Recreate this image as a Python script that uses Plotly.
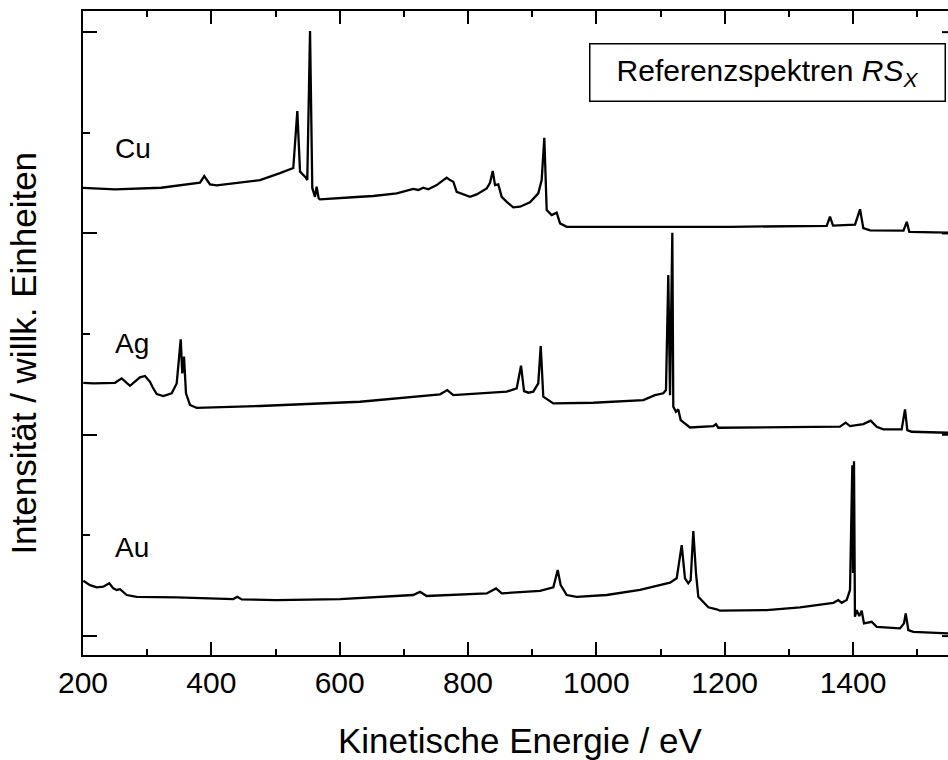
import plotly.graph_objects as go

# ---- data (kinetic energy in eV, intensity in arbitrary units, stacked) ----
cu_x = [200, 250.0, 321.6, 382.3, 389.0, 397.9, 408.4, 475.8, 507.0, 522.6, 527.7, 534.0, 538.2, 546.0, 549.5,
        553.8, 557.3, 561.5, 564.1, 567.3, 569.3, 626.5, 652.4, 688.9, 714.7, 722.5, 730.3, 738.1, 751.2,
        761.5, 766.8, 771.9, 777.1, 782.4, 792.7, 803.1, 813.5, 829.1, 834.3, 838.5, 842.1, 847.2, 852.5,
        860.3, 870.6, 881.0, 896.6, 909.5, 914.8, 918.9, 922.6, 930.4, 938.2, 943.4, 953.8, 1208.3, 1359.0,
        1364.1, 1368.8, 1403.1, 1410.9, 1416.0, 1426.5, 1478.7, 1483.7, 1487.7, 1548.0]
cu_y = [2.226, 2.219, 2.227, 2.252, 2.285, 2.244, 2.239, 2.265, 2.300, 2.320, 2.325, 2.608, 2.307, 2.282, 2.265,
        3.006, 2.226, 2.182, 2.232, 2.174, 2.169, 2.181, 2.186, 2.199, 2.221, 2.216, 2.227, 2.219, 2.240,
        2.265, 2.277, 2.265, 2.257, 2.207, 2.196, 2.182, 2.194, 2.224, 2.252, 2.310, 2.240, 2.244, 2.182,
        2.157, 2.130, 2.133, 2.155, 2.199, 2.265, 2.475, 2.116, 2.091, 2.103, 2.050, 2.033, 2.033, 2.038,
        2.083, 2.039, 2.044, 2.120, 2.027, 2.015, 2.014, 2.058, 2.008, 2.004]

ag_x = [200.5, 216.1, 249.9, 260.3, 273.2, 283.7, 288.8, 296.6, 304.4, 308.3, 314.9, 325.1, 338.2, 346.0,
        352.3, 354.7, 357.4, 360.5, 366.7, 377.2, 475.8, 631.7, 756.4, 767.7, 777.1, 860.3, 875.9, 882.6,
        887.3, 894.0, 901.7, 909.5, 913.3, 917.3, 925.1, 932.9, 995.2, 1073.2, 1091.4, 1104.3, 1108.5,
        1112.1, 1114.8, 1118.4, 1119.9, 1124.1, 1127.7, 1131.4, 1145.9, 1161.5, 1182.2, 1186.4, 1190.0,
        1379.7, 1388.5, 1395.3, 1416.0, 1427.5, 1436.9, 1447.2, 1475.8, 1481.0, 1484.6, 1491.4, 1548.0]
ag_y = [1.258, 1.255, 1.258, 1.280, 1.243, 1.272, 1.285, 1.292, 1.263, 1.237, 1.202, 1.192, 1.206, 1.255,
        1.474, 1.305, 1.388, 1.206, 1.148, 1.134, 1.143, 1.164, 1.201, 1.222, 1.197, 1.214, 1.231, 1.343,
        1.217, 1.209, 1.214, 1.255, 1.441, 1.189, 1.172, 1.156, 1.159, 1.172, 1.197, 1.206, 1.222,
        1.793, 1.197, 2.003, 1.139, 1.114, 1.126, 1.073, 1.036, 1.040, 1.043, 1.053, 1.035,
        1.040, 1.060, 1.043, 1.053, 1.070, 1.040, 1.027, 1.027, 1.126, 1.023, 1.015, 1.010]

au_x = [200.5, 210.9, 221.4, 231.6, 241.0, 247.2, 252.5, 257.7, 268.1, 283.7, 346.0, 397.9, 434.2, 440.5,
        447.3, 501.9, 600.5, 714.7, 725.2, 735.6, 829.1, 843.6, 852.5, 912.2, 932.9, 939.8, 944.4, 953.8,
        969.3, 1016.1, 1068.0, 1114.8, 1125.2, 1133.0, 1138.1, 1143.3, 1147.0, 1151.1, 1155.3, 1158.9,
        1166.7, 1174.5, 1187.5, 1192.7, 1265.5, 1317.4, 1369.3, 1377.0, 1382.4, 1390.1, 1395.3, 1398.9,
        1400.0, 1401.5, 1403.0, 1405.7, 1409.7, 1413.5, 1417.1, 1429.1, 1436.9, 1473.2, 1479.4, 1482.1,
        1486.2, 1494.0, 1548.0]
au_y = [0.275, 0.253, 0.242, 0.245, 0.262, 0.237, 0.229, 0.233, 0.204, 0.195, 0.192, 0.187, 0.184, 0.195,
        0.182, 0.179, 0.184, 0.204, 0.220, 0.199, 0.212, 0.237, 0.212, 0.225, 0.242, 0.328, 0.253, 0.204,
        0.195, 0.204, 0.229, 0.265, 0.287, 0.452, 0.287, 0.262, 0.278, 0.522, 0.311, 0.195,
        0.170, 0.143, 0.133, 0.126, 0.129, 0.143, 0.165, 0.179, 0.165, 0.179, 0.229, 0.849,
        0.313, 0.869, 0.096, 0.129, 0.099, 0.126, 0.063, 0.071, 0.046, 0.038, 0.063, 0.113,
        0.030, 0.021, 0.013]

x_tickvals = [200, 400, 600, 800, 1000, 1200, 1400]
x_ticktext = ["200", "400", "600", "800", "1000", "1200", "1400"]
x_minorvals = [300, 500, 700, 900, 1100, 1300, 1500]
y_tickvals = [0, 1, 2, 3]
y_minorvals = [0.5, 1.5, 2.5]

labels = ["Cu", "Ag", "Au"]
label_x = [246.8, 246.8, 246.8]
label_y = [2.424, 1.453, 0.442]

X_RANGE = [200, 1548]
Y_RANGE = [-0.094, 3.105]

FONT = "Liberation Sans, Arial, sans-serif"

fig = go.Figure()
for xs, ys, name in [(cu_x, cu_y, "Cu"), (ag_x, ag_y, "Ag"), (au_x, au_y, "Au")]:
    fig.add_trace(go.Scatter(x=xs, y=ys, mode="lines", name=name,
                             line=dict(color="black", width=2.3), showlegend=False,
                             hoverinfo="skip"))

annotations = []
for t, lx, ly in zip(labels, label_x, label_y):
    annotations.append(dict(x=lx, y=ly, xref="x", yref="y", text=t, showarrow=False,
                            xanchor="left", yanchor="middle",
                            font=dict(family=FONT, size=28, color="black")))

# boxed label
annotations.append(dict(x=0.7908, y=0.9045, xref="paper", yref="paper",
                        text="Referenzspektren <i>RS<sub>X</sub></i>", showarrow=False,
                        xanchor="center", yanchor="middle", width=350, height=52,
                        bordercolor="black", borderwidth=1.5, borderpad=2, bgcolor="white",
                        font=dict(family=FONT, size=30, color="black")))
# axis titles
annotations.append(dict(x=0.505, y=-0.132, xref="paper", yref="paper",
                        text="Kinetische Energie / eV", showarrow=False,
                        xanchor="center", yanchor="middle",
                        font=dict(family=FONT, size=35, color="black")))
annotations.append(dict(x=-0.0682, y=0.468, xref="paper", yref="paper",
                        text="Intensität / willk. Einheiten", showarrow=False, textangle=-90,
                        xanchor="center", yanchor="middle",
                        font=dict(family=FONT, size=35, color="black")))

# partial right-axis ticks visible at the cropped right edge
shapes = []
tick_px = 6
span = (X_RANGE[1] - X_RANGE[0]) / 865.0 * tick_px
for v in y_tickvals:
    shapes.append(dict(type="line", xref="x", yref="y", x0=X_RANGE[1] - span, x1=X_RANGE[1],
                       y0=v, y1=v, line=dict(color="black", width=2)))

fig.update_layout(
    width=948, height=760,
    margin=dict(l=83, r=0, t=11, b=105),
    paper_bgcolor="white", plot_bgcolor="white",
    font=dict(family=FONT, size=30, color="black"),
    annotations=annotations, shapes=shapes,
    xaxis=dict(range=X_RANGE, tickvals=x_tickvals, ticktext=x_ticktext,
               ticks="inside", ticklen=13, tickwidth=2, tickcolor="black",
               showline=True, linewidth=2, linecolor="black", mirror="allticks",
               showgrid=False, zeroline=False,
               tickfont=dict(family=FONT, size=30, color="black"),
               minor=dict(tickvals=x_minorvals,
                          ticks="inside", ticklen=6, tickwidth=2, tickcolor="black")),
    yaxis=dict(range=Y_RANGE, tickvals=y_tickvals, showticklabels=False,
               ticks="inside", ticklen=14, tickwidth=2, tickcolor="black",
               showline=True, linewidth=2, linecolor="black", mirror=False,
               showgrid=False, zeroline=False,
               minor=dict(tickvals=y_minorvals, ticks="inside", ticklen=7,
                          tickwidth=2, tickcolor="black")),
)

fig.write_html("out.html")
